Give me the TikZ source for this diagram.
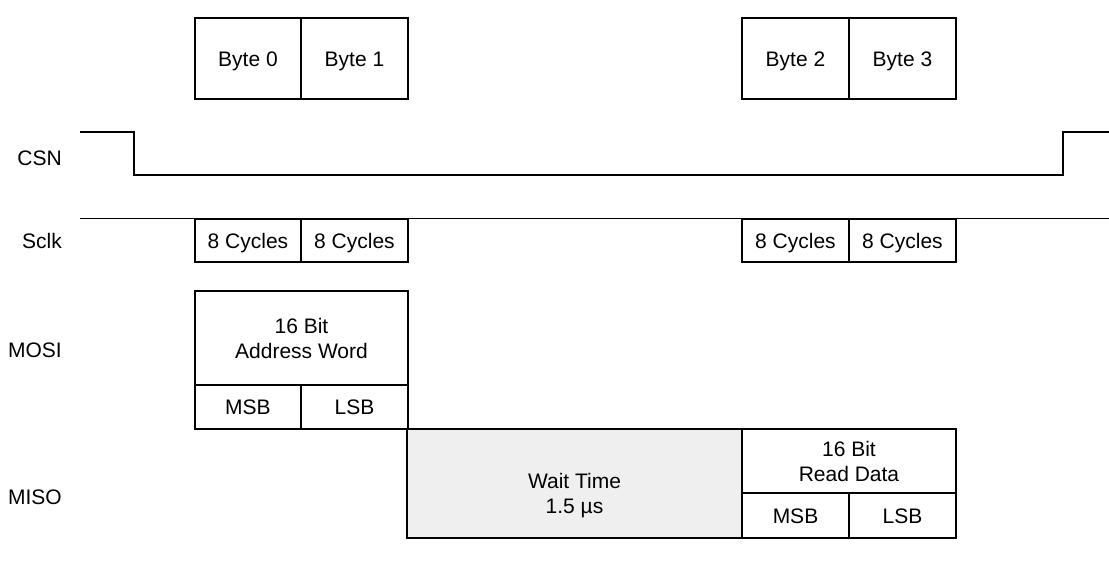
\documentclass[tikz,border=0pt]{standalone}
\usepackage{fontspec}
\setmainfont{Liberation Sans}
\definecolor{waitgray}{HTML}{EFEFEF}
\begin{document}
\begin{tikzpicture}[x=1pt,y=-1pt,
  box/.style={draw=black,line width=1.8pt,inner sep=0pt,outer sep=0pt,align=center,font=\fontsize{21}{25}\selectfont},
  one/.style={text height=15pt,text depth=0pt},
  txt/.style={inner sep=0pt,align=center,font=\fontsize{21}{25}\selectfont},
  sig/.style={anchor=east,inner sep=0pt,text height=15pt,text depth=0pt,font=\fontsize{21}{25}\selectfont},
  wire/.style={line width=1.8pt}]
\useasboundingbox (0,0) rectangle (1109,565);
% byte boxes
\node[box,one,minimum width=106pt,minimum height=81pt] (b0) at (248,58.5) {Byte 0};
\node[box,one,minimum width=107pt,minimum height=81pt] (b1) at (354.5,58.5) {Byte 1};
\node[box,one,minimum width=107pt,minimum height=81pt] (b2) at (795.5,58.5) {Byte 2};
\node[box,one,minimum width=107pt,minimum height=81pt] (b3) at (902.5,58.5) {Byte 3};
% signal labels
\node[sig] (lcsn) at (62,158) {CSN};
\node[sig] (lsclk) at (62,241) {Sclk};
\node[sig] (lmosi) at (62,350) {MOSI};
\node[sig] (lmiso) at (62,497) {MISO};
% CSN
\coordinate (cs0) at (80,132);
\coordinate (cs1) at (134,132);
\coordinate (cs2) at (134,175);
\coordinate (cs3) at (1063,175);
\coordinate (cs4) at (1063,132);
\coordinate (cs5) at (1109,132);
\draw[wire] (cs0) -- (cs1) -- (cs2) -- (cs3) -- (cs4) -- (cs5);
% Sclk
\coordinate (sk0) at (80,218.5);
\coordinate (sk1) at (1109,218.5);
\draw[wire] (sk0) -- (sk1);
\node[box,one,minimum width=106pt,minimum height=43pt] (c0) at (248,240.5) {8 Cycles};
\node[box,one,minimum width=107pt,minimum height=43pt] (c1) at (354.5,240.5) {8 Cycles};
\node[box,one,minimum width=107pt,minimum height=43pt] (c2) at (795.5,240.5) {8 Cycles};
\node[box,one,minimum width=107pt,minimum height=43pt] (c3) at (902.5,240.5) {8 Cycles};
% MOSI
\node[box,minimum width=213pt,minimum height=94pt] (mosi) at (301.5,338) {16 Bit\\Address Word};
\node[box,one,minimum width=106pt,minimum height=44pt] (mmsb) at (248,407) {MSB};
\node[box,one,minimum width=107pt,minimum height=44pt] (mlsb) at (354.5,407) {LSB};
% MISO
\node[box,fill=waitgray,minimum width=335pt,minimum height=109pt] (wait) at (574.5,483.5) {};
\node[txt] (waittxt) at (574.5,495.5) {Wait Time\\1.5 µs};
\node[box,minimum width=214pt,minimum height=64pt] (rd) at (849,461) {16 Bit\\Read Data};
\node[box,one,minimum width=107pt,minimum height=45pt] (rmsb) at (795.5,515.5) {MSB};
\node[box,one,minimum width=107pt,minimum height=45pt] (rlsb) at (902.5,515.5) {LSB};
\end{tikzpicture}
\end{document}
